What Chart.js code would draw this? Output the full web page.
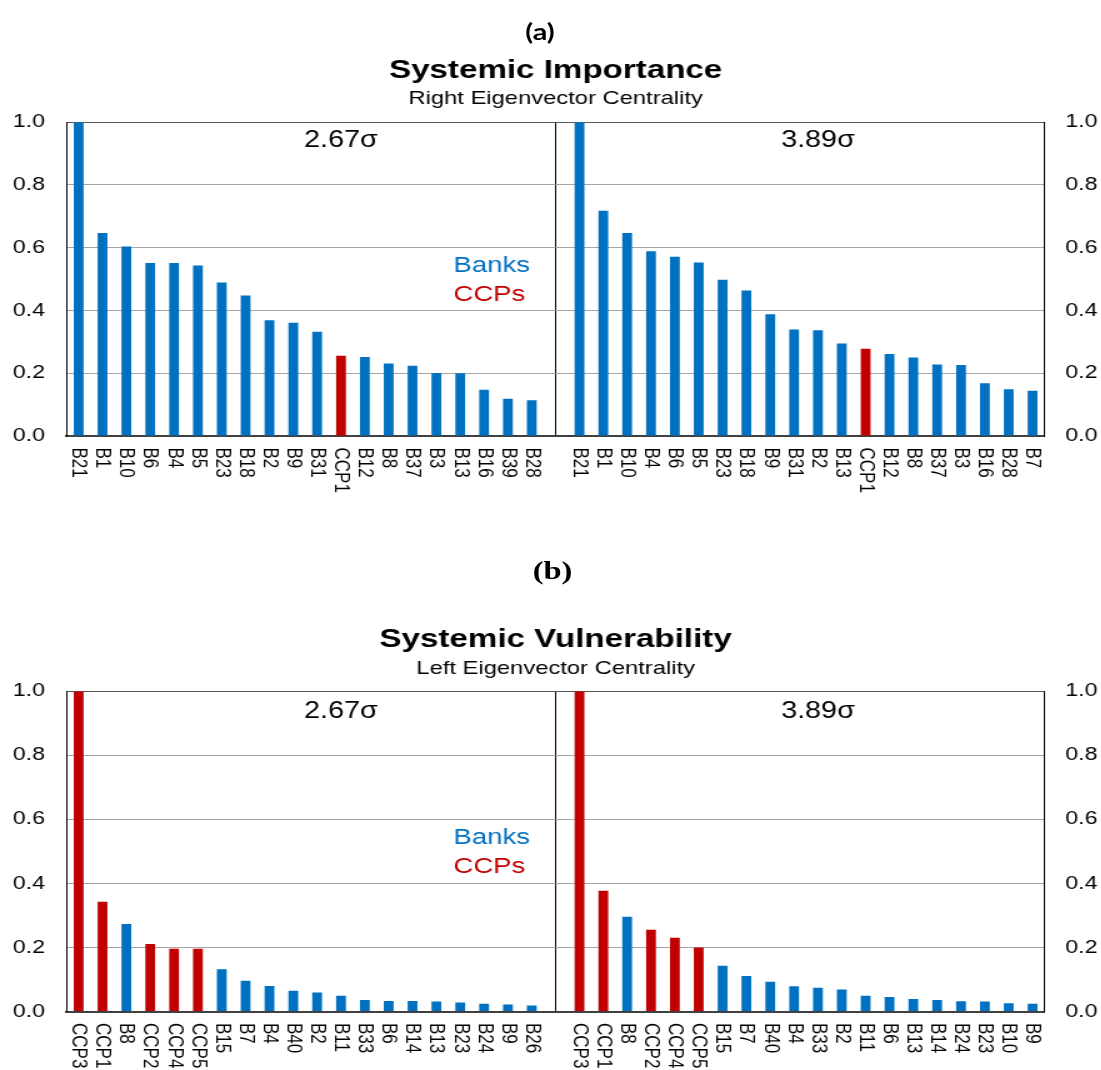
<!DOCTYPE html>
<html>
<head>
<meta charset="utf-8">
<script src="https://cdn.jsdelivr.net/npm/chart.js@4.4.1/dist/chart.umd.min.js"></script>
<style>
  html, body { margin: 0; padding: 0; background: #fff; overflow: hidden; }
  /* the source figure is stretched sideways, so lay out at 881px and widen */
  #page { position: relative; width: 881px; height: 1100px; transform: scaleX(1.25); transform-origin: 0 0; }
  .box { position: absolute; left: 0; width: 881px; }
  .tag { position: absolute; transform: translate(-50%, -50%); line-height: 1; white-space: nowrap; color: #000; }
</style>
</head>
<body>
<div id="page">
  <div class="box" style="top:0;height:530px"><canvas id="chartA"></canvas></div>
  <div class="box" style="top:540px;height:560px"><canvas id="chartB"></canvas></div>
  <div class="tag" style="left:432px;top:31px;font:bold 23px Lato, sans-serif">(a)</div>
  <div class="tag" style="left:442px;top:571px;font:bold 26px 'Liberation Serif', serif">(b)</div>
</div>
<script>
// data
const impLabels267 = ['B21','B1','B10','B6','B4','B5','B23','B18','B2','B9','B31','CCP1','B12','B8','B37','B3','B13','B16','B39','B28'];
const impValues267 = [1.0, 0.647, 0.604, 0.551, 0.551, 0.543, 0.489, 0.448, 0.369, 0.361, 0.332, 0.256, 0.252, 0.231, 0.224, 0.201, 0.200, 0.147, 0.119, 0.114];
const impLabels389 = ['B21','B1','B10','B4','B6','B5','B23','B18','B9','B31','B2','B13','CCP1','B12','B8','B37','B3','B16','B28','B7'];
const impValues389 = [1.0, 0.718, 0.647, 0.589, 0.571, 0.553, 0.498, 0.464, 0.388, 0.339, 0.337, 0.295, 0.278, 0.261, 0.250, 0.228, 0.226, 0.168, 0.149, 0.144];

const vulLabels267 = ['CCP3','CCP1','B8','CCP2','CCP4','CCP5','B15','B7','B4','B40','B2','B11','B33','B6','B14','B13','B23','B24','B9','B26'];
const vulValues267 = [1.0, 0.343, 0.273, 0.211, 0.196, 0.196, 0.132, 0.096, 0.080, 0.065, 0.059, 0.049, 0.036, 0.033, 0.033, 0.031, 0.028, 0.024, 0.022, 0.019];
const vulLabels389 = ['CCP3','CCP1','B8','CCP2','CCP4','CCP5','B15','B7','B40','B4','B33','B2','B11','B6','B13','B14','B24','B23','B10','B9'];
const vulValues389 = [1.0, 0.377, 0.296, 0.255, 0.230, 0.200, 0.143, 0.111, 0.093, 0.079, 0.074, 0.069, 0.049, 0.045, 0.039, 0.036, 0.032, 0.031, 0.026, 0.024];

const scenarios = ['2.67σ', '3.89σ'];
const groupNames = ['Banks', 'CCPs'];
const yTicks = [0, 0.2, 0.4, 0.6, 0.8, 1.0];

const BLUE = '#0070C0';
const RED = '#C00000';
const FONT = "'Liberation Sans', Arial, sans-serif";

Chart.defaults.font.family = FONT;
Chart.defaults.color = '#000';

function makeChart(id, title, subtitle, leftLabels, leftValues, rightLabels, rightValues, opt) {
  // one category axis: left group, an empty slot for the divider, right group
  const labels = [...leftLabels, '', ...rightLabels];
  const values = [...leftValues, null, ...rightValues];
  const mid = leftLabels.length;

  const annotate = {
    id: 'annotate',
    afterDraw(chart) {
      const { ctx, chartArea, scales: { x, y } } = chart;
      ctx.save();
      // rotated category labels, reading downwards
      ctx.fillStyle = '#000';
      ctx.font = '17px ' + FONT;
      ctx.textAlign = 'left';
      ctx.textBaseline = 'middle';
      chart.data.labels.forEach((lab, i) => {
        if (!lab) return;
        ctx.save();
        ctx.translate(x.getPixelForTick(i), chartArea.bottom + 11.5);
        ctx.rotate(Math.PI / 2);
        ctx.fillText(lab, 0, 0);
        ctx.restore();
      });
      // scenario headings
      ctx.font = '23px ' + FONT;
      ctx.textAlign = 'center';
      ctx.fillText(scenarios[0], x.getPixelForValue(11), y.getPixelForValue(opt.sigmaY));
      ctx.fillText(scenarios[1], x.getPixelForValue(31), y.getPixelForValue(opt.sigmaY));
      // colour key
      ctx.font = '22px ' + FONT;
      ctx.textAlign = 'left';
      ctx.fillStyle = BLUE;
      ctx.fillText(groupNames[0], x.getPixelForValue(15.72), y.getPixelForValue(opt.banksY));
      ctx.fillStyle = RED;
      ctx.fillText(groupNames[1], x.getPixelForValue(15.72), y.getPixelForValue(opt.ccpsY));
      ctx.restore();
    }
  };

  return new Chart(document.getElementById(id), {
    type: 'bar',
    data: {
      labels: labels,
      datasets: [{
        data: values,
        backgroundColor: labels.map(l => l.startsWith('CCP') ? RED : BLUE),
        barPercentage: 0.41,
        categoryPercentage: 1.0
      }]
    },
    options: {
      responsive: true,
      maintainAspectRatio: false,
      animation: false,
      layout: { padding: { top: opt.padTop, left: 0, right: 0, bottom: 0 } },
      plugins: {
        legend: { display: false },
        tooltip: { enabled: false },
        title: {
          display: true, text: title, fullSize: false, color: '#000',
          font: { size: 26.5, weight: 'bold' },
          padding: { top: 0, bottom: 1 }
        },
        subtitle: {
          display: true, text: subtitle, fullSize: false, color: '#000',
          font: { size: 19 },
          padding: { top: 0, bottom: 11.6 }
        }
      },
      scales: {
        x: {
          ticks: { display: false },
          grid: {
            offset: false,
            drawTicks: false,
            color: c => c.index === mid ? '#000' : 'rgba(0,0,0,0)'
          },
          border: { color: '#404040', width: 2 },
          afterFit: s => { s.height = opt.xHeight; }
        },
        y: {
          position: 'left',
          min: 0, max: 1,
          afterBuildTicks: s => { s.ticks = yTicks.map(v => ({ value: v })); },
          ticks: { padding: 17.4, font: { size: 18.5 }, callback: v => v.toFixed(1) },
          grid: {
            drawTicks: false,
            color: c => c.tick.value === 1 ? '#595959' : (c.tick.value === 0 ? 'rgba(0,0,0,0)' : '#a6a6a6')
          },
          border: { color: '#000', width: 1 },
          afterFit: s => { s.width = 53.4; }
        },
        y2: {
          position: 'right',
          min: 0, max: 1,
          afterBuildTicks: s => { s.ticks = yTicks.map(v => ({ value: v })); },
          ticks: { padding: 16.6, font: { size: 18.5 }, callback: v => v.toFixed(1) },
          grid: { display: false, drawTicks: false },
          border: { color: '#000', width: 1 },
          afterFit: s => { s.width = 45.4; }
        }
      }
    },
    plugins: [annotate]
  });
}

makeChart('chartA', 'Systemic Importance', 'Right Eigenvector Centrality',
  impLabels267, impValues267, impLabels389, impValues389,
  { padTop: 55, xHeight: 94, sigmaY: 0.94, banksY: 0.543, ccpsY: 0.448 });

makeChart('chartB', 'Systemic Vulnerability', 'Left Eigenvector Centrality',
  vulLabels267, vulValues267, vulLabels389, vulValues389,
  { padTop: 84.1, xHeight: 88.5, sigmaY: 0.936, banksY: 0.542, ccpsY: 0.452 });
</script>
</body>
</html>
